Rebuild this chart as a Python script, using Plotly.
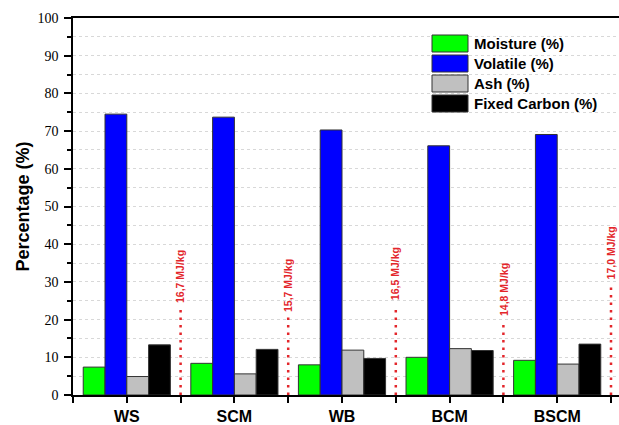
import plotly.graph_objects as go

categories = ["WS", "SCM", "WB", "BCM", "BSCM"]
moisture = [7.4, 8.4, 8.0, 10.0, 9.2]
volatile = [74.5, 73.7, 70.3, 66.1, 69.1]
ash = [4.9, 5.6, 11.9, 12.3, 8.2]
fixed_carbon = [13.3, 12.1, 9.7, 11.8, 13.5]
heating_values = ["16,7 MJ/kg", "15,7 MJ/kg", "16,5 MJ/kg", "14,8 MJ/kg", "17,0 MJ/kg"]
label_base = [23.9, 21.4, 24.7, 20.4, 30.0]

series = [
    ("Moisture (%)", moisture, "#00FF00"),
    ("Volatile (%)", volatile, "#0000FF"),
    ("Ash (%)", ash, "#C0C0C0"),
    ("Fixed Carbon (%)", fixed_carbon, "#000000"),
]

xpos = list(range(len(categories)))

W, H = 619, 425
L, R, T, B = 73, 0, 18, 30
pw, ph = W - L - R, H - T - B
unit = 107.6
xmax = -0.5 + pw / unit

def px(screen_x):
    return (screen_x - L) / pw

def py(screen_y):
    return (H - B - screen_y) / ph

fig = go.Figure()
for name, vals, col in series:
    fig.add_trace(go.Bar(
        x=xpos, y=vals, name=name,
        marker=dict(color=col, line=dict(color="#333333", width=1)),
        showlegend=False,
    ))

shapes = []
annotations = []
red = "#E3262B"
for i, (txt, yb) in enumerate(zip(heating_values, label_base)):
    shapes.append(dict(type="line", xref="x", yref="y", x0=i + 0.5, x1=i + 0.5,
                       y0=0, y1=yb - 0.8, line=dict(color=red, width=2.5, dash="2.5px,5px")))
    annotations.append(dict(x=i + 0.5, y=yb, xref="x", yref="y", text=txt, textangle=-90,
                            showarrow=False, xanchor="center", yanchor="bottom",
                            font=dict(family="Arial, Liberation Sans", size=10.5, color=red, weight="bold")))

# custom legend
leg_x0, leg_x1 = 432, 468
leg_tops = [35, 55, 75, 95]
for (name, vals, col), top in zip(series, leg_tops):
    shapes.append(dict(type="rect", xref="paper", yref="paper",
                       x0=px(leg_x0), x1=px(leg_x1),
                       y0=py(top + 17), y1=py(top),
                       fillcolor=col, line=dict(color="#333333", width=1)))
    annotations.append(dict(x=px(472), y=py(top + 8.5), xref="paper", yref="paper",
                            text=name, showarrow=False, xanchor="left", yanchor="middle",
                            font=dict(family="Arial, Liberation Sans", size=15, color="black", weight="bold")))

fig.update_layout(
    width=W, height=H,
    margin=dict(l=L, r=R, t=T, b=B),
    paper_bgcolor="white", plot_bgcolor="white",
    barmode="group", bargap=0.19, bargroupgap=0,
    shapes=shapes, annotations=annotations,
    xaxis=dict(
        range=[-0.5, xmax], tickvals=xpos, ticktext=categories, automargin=False,
        showline=True, linecolor="black", linewidth=1.5, mirror=True,
        ticks="outside", ticklen=6, tickwidth=1.5, tickcolor="black",
        showgrid=False, zeroline=False,
        tickfont=dict(family="Arial, Liberation Sans", size=16, color="black", weight="bold"),
        ticklabelstandoff=0,
        minor=dict(tickvals=[-0.5, 0.5, 1.5, 2.5, 3.5, 4.5], ticks="outside", ticklen=6,
                   tickwidth=1.5, tickcolor="black", showgrid=False),
    ),
    yaxis=dict(
        range=[0, 100], tickvals=list(range(0, 101, 10)), automargin=False,
        showline=True, linecolor="black", linewidth=1.5,
        ticks="outside", ticklen=7, tickwidth=1.5, tickcolor="black",
        showgrid=False, zeroline=False, ticklabelstandoff=3,
        tickfont=dict(family="Liberation Serif, Times New Roman", size=14, color="black"),
        title=dict(text="Percentage (%)", standoff=3,
                   font=dict(family="Arial, Liberation Sans", size=18, color="black", weight="bold")),
        minor=dict(dtick=5, ticks="outside", ticklen=4, tickwidth=1.5, tickcolor="black",
                   showgrid=True, gridcolor="#D8D8D8", griddash="dot", gridwidth=1),
    ),
)

fig.write_html("out.html", config={"displayModeBar": False},
               post_script="document.body.style.margin='0';document.body.style.overflow='hidden';")
